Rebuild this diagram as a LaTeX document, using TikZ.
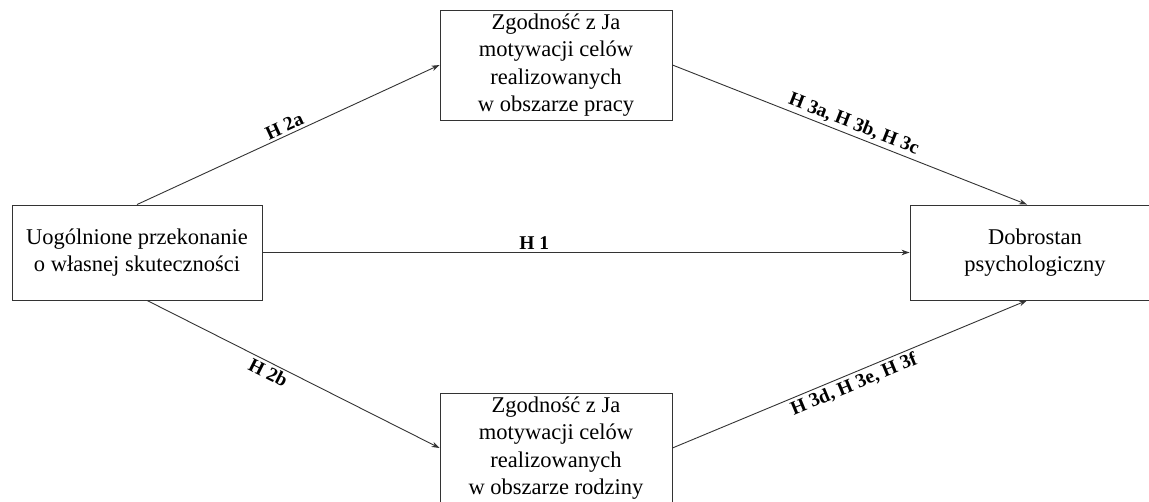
\documentclass[tikz,border=0pt]{standalone}
\usepackage{fontspec}
\setmainfont{Liberation Serif}
\usetikzlibrary{arrows.meta}
\begin{document}
\begin{tikzpicture}[x=1pt,y=-1pt,
  box/.style={draw=black!80, line width=0.9pt, align=center, inner sep=0pt,
    font=\fontsize{22.5}{27.5}\selectfont},
  conn/.style={draw=black!80, line width=0.9pt, -{Stealth[length=8pt,width=5.5pt]}},
  lab/.style={font=\fontsize{19.5}{22}\selectfont\bfseries, inner sep=2.5pt}]
\useasboundingbox (0,0) rectangle (1149,502);
\clip (0,0) rectangle (1149,502);
\fill[white] (0,0) rectangle (1149,502);
\node[box, minimum width=250pt, minimum height=95pt] (ue) at (137,252.5)
  {Uogólnione przekonanie\\o własnej skuteczności};
\node[box, minimum width=232pt, minimum height=110pt] (zp) at (556,65)
  {Zgodność z Ja\\motywacji celów\\realizowanych\\w obszarze pracy};
\node[box, minimum width=232pt, minimum height=110pt] (zr) at (556,448)
  {Zgodność z Ja\\motywacji celów\\realizowanych\\w obszarze rodziny};
\node[box, minimum width=250pt, minimum height=95pt] (dp) at (1035,252.5)
  {Dobrostan\\psychologiczny};
\draw[conn] (ue.north) -- (zp.west) node[lab, sloped, above, pos=0.5] {H 2a};
\draw[conn] ([xshift=10pt]ue.south) -- (zr.west) node[lab, sloped, below, pos=0.43] {H 2b};
\draw[conn] (ue.east) -- (dp.west) node[lab, above, pos=0.42] {H 1};
\draw[conn] (zp.east) -- ([xshift=-8pt]dp.north) node[lab, sloped, above, pos=0.5] {H 3a, H 3b, H 3c};
\draw[conn] (zr.east) -- ([xshift=-8pt]dp.south) node[lab, sloped, below, pos=0.5] {H 3d, H 3e, H 3f};
\end{tikzpicture}
\end{document}
